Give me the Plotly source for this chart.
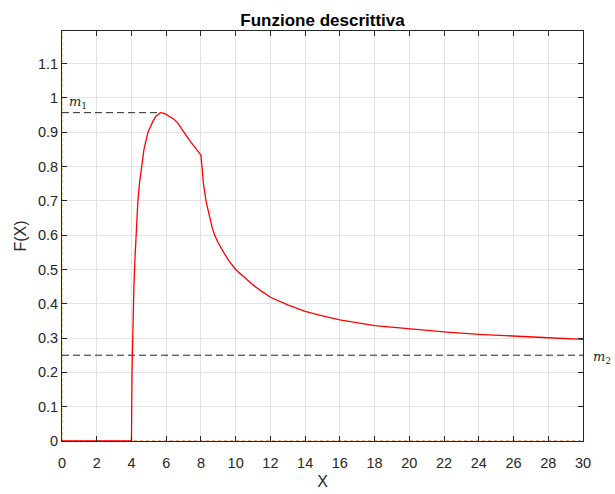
import plotly.graph_objects as go

# Curve F(X)
x_vals = [0, 4, 4.03, 4.08, 4.14, 4.20, 4.26, 4.30, 4.37, 4.46, 4.57, 4.72, 4.95, 5.08, 5.22,
          5.41, 5.66, 5.9, 6.2, 6.45, 6.65, 6.83, 7.02, 7.41, 7.8, 8.0, 8.06, 8.14, 8.29, 8.5,
          8.65, 8.79, 9.0, 9.31, 9.6, 10.0, 10.46, 11, 11.5, 12, 13, 14, 15, 16, 18, 20, 22, 24,
          26, 28, 30]
f_vals = [0, 0, 0.2, 0.35, 0.45, 0.53, 0.6, 0.648, 0.7, 0.75, 0.8, 0.85, 0.9, 0.917, 0.93,
          0.947, 0.957, 0.955, 0.947, 0.938, 0.928, 0.916, 0.90, 0.872, 0.846, 0.833, 0.8, 0.753,
          0.7, 0.65, 0.621, 0.6, 0.577, 0.55, 0.526, 0.5, 0.478, 0.455, 0.436, 0.419, 0.397,
          0.378, 0.365, 0.353, 0.336, 0.326, 0.318, 0.311, 0.305, 0.301, 0.296]

m1_value = 0.957
m1_x = 5.66
m2_value = 0.25
x_max = 30
y_max = 1.195

x_ticks = list(range(0, 31, 2))
y_ticks = [0, 0.1, 0.2, 0.3, 0.4, 0.5, 0.6, 0.7, 0.8, 0.9, 1, 1.1]
y_tick_text = ["0", "0.1", "0.2", "0.3", "0.4", "0.5", "0.6", "0.7", "0.8", "0.9", "1", "1.1"]

fig = go.Figure()

# reference lines at x=0 and y=0 (dotted)
fig.add_trace(go.Scatter(x=[0, 0], y=[0, y_max], mode="lines",
                         line=dict(color="#EDB120", width=1, dash="dot"),
                         hoverinfo="skip", showlegend=False, cliponaxis=False))
fig.add_trace(go.Scatter(x=[0, x_max], y=[0, 0], mode="lines",
                         line=dict(color="#D95319", width=1, dash="dot"),
                         hoverinfo="skip", showlegend=False, cliponaxis=False))
# m1 dashed line
fig.add_trace(go.Scatter(x=[0, m1_x], y=[m1_value, m1_value], mode="lines",
                         line=dict(color="#262626", width=1, dash="7px,4px"),
                         hoverinfo="skip", showlegend=False))
# m2 dashed line
fig.add_trace(go.Scatter(x=[0, x_max], y=[m2_value, m2_value], mode="lines",
                         line=dict(color="#262626", width=1, dash="7px,4px"),
                         hoverinfo="skip", showlegend=False))
# main curve
fig.add_trace(go.Scatter(x=x_vals, y=f_vals, mode="lines",
                         line=dict(color="#ff0000", width=1.3),
                         showlegend=False, cliponaxis=False))

fig.add_annotation(x=0.3, y=m1_value, xref="x", yref="y", text="<i>m</i><sub>1</sub>",
                   showarrow=False, xanchor="left", yanchor="bottom", yshift=0,
                   font=dict(family="DejaVu Serif", size=13, color="#262626"))
fig.add_annotation(x=x_max, y=m2_value, xref="x", yref="y", text="<i>m</i><sub>2</sub>",
                   showarrow=False, xanchor="left", yanchor="middle", xshift=8, yshift=-2,
                   font=dict(family="DejaVu Serif", size=13, color="#262626"))

axis_common = dict(
    showline=True, linecolor="#262626", linewidth=1, mirror="ticks",
    ticks="inside", ticklen=5, tickcolor="#262626", tickwidth=1,
    showgrid=True, gridcolor="#e3e3e3", gridwidth=1, zeroline=False,
    automargin=False,
    tickfont=dict(family="Liberation Sans, Arial", size=14.5, color="#262626"),
)

fig.update_layout(
    width=615, height=494,
    paper_bgcolor="white", plot_bgcolor="white",
    margin=dict(l=62, r=32, t=31, b=53),
    title=dict(text="<b>Funzione descrittiva</b>", x=0.5, xanchor="center",
               xref="paper", y=1, yref="paper", yanchor="bottom", pad=dict(b=5),
               font=dict(family="Liberation Sans, Arial", size=17, color="#000000")),
    xaxis=dict(range=[0, x_max], tickvals=x_ticks, ticklabelstandoff=9,
               title=dict(text="X", standoff=5,
                          font=dict(family="Liberation Sans, Arial", size=16, color="#262626")),
               **axis_common),
    yaxis=dict(range=[0, y_max], tickvals=y_ticks, ticktext=y_tick_text,
               title=dict(text="F(X)", standoff=7,
                          font=dict(family="Liberation Sans, Arial", size=16, color="#262626")),
               **axis_common),
)

fig.write_html("out.html", config={"displayModeBar": False},
               post_script="document.body.style.margin='0';document.body.style.overflow='hidden';")
